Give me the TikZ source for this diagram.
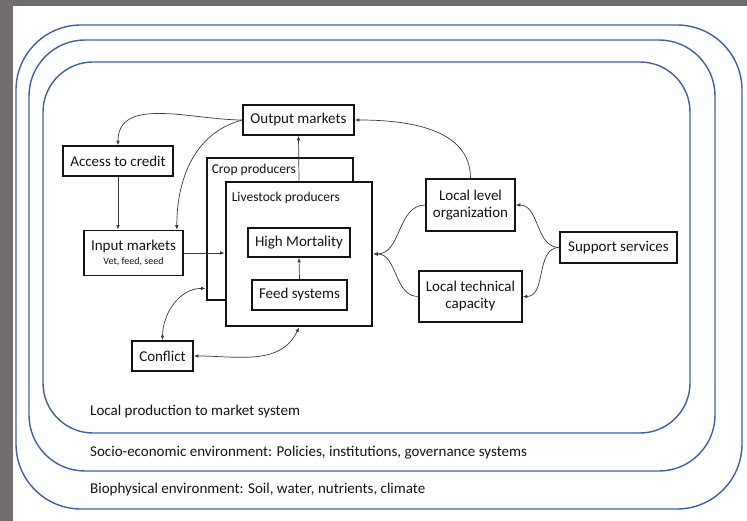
\documentclass[tikz,border=0pt]{standalone}
\usepackage{fontspec}
\setmainfont{Carlito}
\usepackage{tikz}
\usetikzlibrary{arrows.meta}
\definecolor{frame}{HTML}{716D6D}
\definecolor{layerblue}{HTML}{41609F}
\definecolor{ink}{HTML}{141414}
\definecolor{wire}{HTML}{3A3A3A}
\tikzset{
  >={Latex[length=4.5pt,width=3.6pt]},
  every node/.style={font=\fontsize{15}{17}\selectfont,text=ink},
  layer/.style={draw=layerblue,line width=1.4pt},
  layertext/.style={anchor=west,inner sep=0pt},
  comp/.style={draw=ink,line width=1.6pt,fill=white,align=center,inner sep=2pt},
  group/.style={draw=ink,line width=2.8pt,fill=white,inner sep=0pt},
  grouptext/.style={anchor=north west,inner sep=0pt,font=\fontsize{13.5}{15}\selectfont},
  link/.style={->,draw=wire,line width=0.7pt},
  twoway/.style={<->,draw=wire,line width=0.7pt}
}

\begin{document}
\begin{tikzpicture}[x=1pt,y=-1pt]
  % screenshot frame
  \fill[frame] (0,0) rectangle (747,521);
  \fill[white] (13,6) rectangle (747,521);
  \useasboundingbox (0,0) rectangle (747,521);

  % nested environments
  \draw[layer,rounded corners=65pt] (16,25) rectangle (742,509);
  \draw[layer,rounded corners=56pt] (29,40) rectangle (715,471);
  \draw[layer,rounded corners=50pt] (43,62) rectangle (690,433);
  \node[layertext] (biotxt) at (90,489) {Biophysical environment: Soil, water, nutrients, climate};
  \node[layertext] (sociotxt) at (90,453) {Socio-economic environment: Policies, institutions, governance systems};
  \node[layertext] (localtxt) at (90,412) {Local production to market system};

  % producers
  \node[group,minimum width=146pt,minimum height=142pt] (crop) at (280,229) {};
  \node[grouptext] (croplbl) at ([xshift=6pt,yshift=-7pt]crop.north west) {Crop producers};
  \node[group,minimum width=146pt,minimum height=144pt] (live) at (299,254) {};
  \node[grouptext] (livelbl) at ([xshift=7pt,yshift=-11pt]live.north west) {Livestock producers};
  \node[comp,minimum width=102pt,minimum height=29pt] (mort) at (299,242.5) {High Mortality};
  \node[comp,minimum width=95pt,minimum height=30pt] (feed) at (299.5,295) {Feed systems};

  % market side
  \node[comp,minimum width=111pt,minimum height=30pt] (output) at (298.5,120) {Output markets};
  \node[comp,minimum width=110pt,minimum height=30pt] (credit) at (118,161) {Access to credit};
  \node[comp,minimum width=99pt,minimum height=45pt] (input) at (133.5,253) {Input markets\\[-3pt]{\fontsize{10}{11}\selectfont Vet, feed, seed}};
  \node[comp,minimum width=61pt,minimum height=30pt] (conflict) at (162.5,356) {Conflict};

  % support side
  \node[comp,minimum width=89pt,minimum height=52pt] (org) at (470.5,205) {Local level\\organization};
  \node[comp,minimum width=103pt,minimum height=51pt] (tech) at (470.5,296.5) {Local technical\\capacity};
  \node[comp,minimum width=117pt,minimum height=31pt] (support) at (618.5,247.5) {Support services};

  \draw[link] (output.west) to[out=180,in=90] (credit.north);
  \draw[link] (output.west) to[out=195,in=90] ([xshift=-7pt]input.north east);
  \draw[link] (credit.south) -- (credit.south |- input.north);
  \draw[link] (input.east) -- (input.east -| live.west);
  \draw[link] (live.north) -- (output.south);
  \draw[link] (org.north) to[out=90,in=0] (output.east);
  \draw[link] (feed.north) -- (mort.south);
  \draw[twoway] (conflict.north) to[out=90,in=180] ([yshift=13pt]crop.south west);
  \draw[twoway] (conflict.east) to[out=0,in=-115] (live.south);
  \draw[link] (org.west) to[out=180,in=0] (live.east);
  \draw[link] (tech.west) to[out=180,in=0] (live.east);
  \draw[link] (support.west) to[out=180,in=0] (org.east);
  \draw[link] (support.west) to[out=180,in=0] (tech.east);
\end{tikzpicture}
\end{document}
